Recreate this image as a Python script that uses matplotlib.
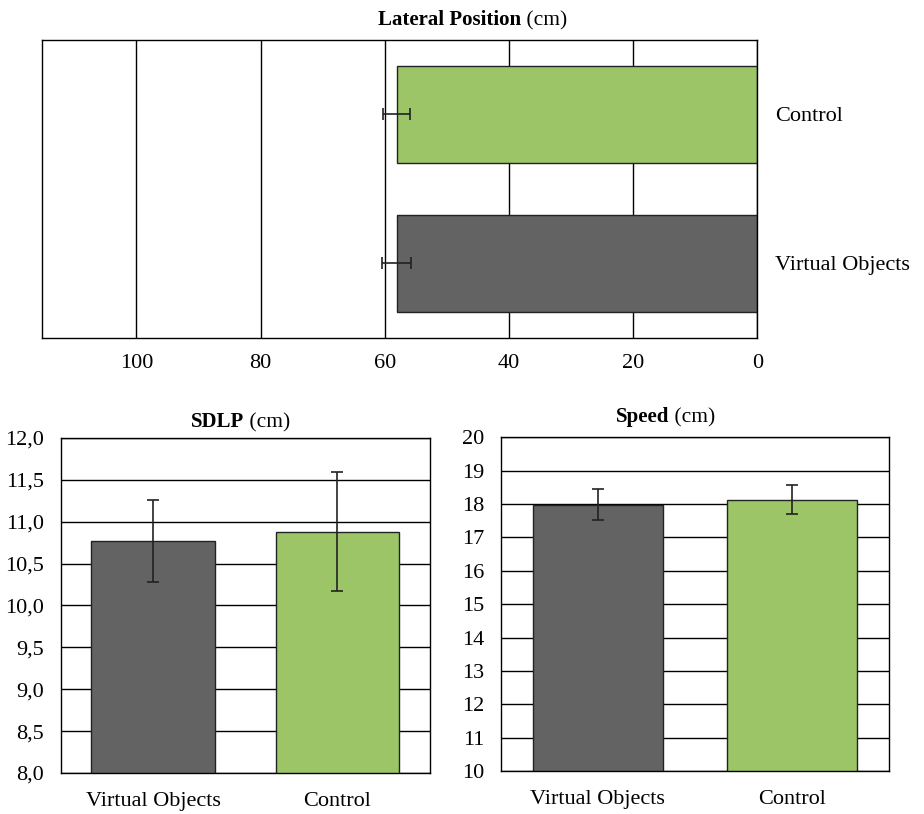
import matplotlib.pyplot as plt
import numpy as np

plt.rcParams['font.family'] = ['Liberation Serif', 'DejaVu Serif']
plt.rcParams['font.size'] = 16

# Lateral position (top, horizontal)
lat_labels = ["Virtual Objects", "Control"]
lat_values = [58.1, 58.1]
lat_err = [2.4, 2.1]

# SDLP
sdlp_labels = ["Virtual Objects", "Control"]
sdlp_values = [10.77, 10.88]
sdlp_err = [0.49, 0.71]

# Speed
speed_labels = ["Virtual Objects", "Control"]
speed_values = [17.98, 18.13]
speed_err = [0.47, 0.44]

gray = "#636363"
green = "#9BC566"
colors = [gray, green]


def two_part_title(fig, x, y, bold, rest):
    # bold part ends at x, plain part starts there
    fig.text(x, y, bold, fontweight='bold', ha='right', va='baseline', fontsize=15)
    fig.text(x, y, rest, ha='left', va='baseline', fontsize=15.5)


def style_axes(ax):
    for s in ax.spines.values():
        s.set_color('black')
        s.set_linewidth(1)
    ax.tick_params(length=0)
    ax.set_axisbelow(True)


fig = plt.figure(figsize=(9.24, 8.14), dpi=100)

# --- top chart
ax1 = fig.add_axes([0.0455, 0.585, 0.774, 0.366])
style_axes(ax1)
ypos = np.arange(len(lat_labels))
ax1.barh(ypos, lat_values, height=0.65, color=colors, edgecolor='#222222', linewidth=1, zorder=2)
ax1.errorbar(lat_values, ypos, xerr=lat_err, fmt='none', ecolor='#222222', elinewidth=1.2,
             capsize=4, capthick=1.2, zorder=3)
ax1.set_xlim(115.2, 0)
ax1.set_ylim(-0.5, 1.5)
ax1.set_xticks([100, 80, 60, 40, 20, 0])
ax1.set_xticklabels(['100', '80', '60', '40', '20', '0'])
ax1.xaxis.grid(True, color='black', linewidth=1)
ax1.yaxis.tick_right()
ax1.set_yticks(ypos)
ax1.set_yticklabels(lat_labels)
ax1.tick_params(axis='y', pad=13)
ax1.tick_params(axis='x', pad=12)

# --- SDLP
ax2 = fig.add_axes([0.066, 0.0504, 0.399, 0.4115])
style_axes(ax2)
xpos = np.arange(len(sdlp_labels))
ax2.bar(xpos, sdlp_values, width=0.67, color=colors, edgecolor='#222222', linewidth=1, zorder=2)
ax2.errorbar(xpos, sdlp_values, yerr=sdlp_err, fmt='none', ecolor='#222222', elinewidth=1.2,
             capsize=4, capthick=1.2, zorder=3)
ax2.set_xlim(-0.5, 1.5)
ax2.set_ylim(8, 12)
yt = np.arange(8, 12.01, 0.5)
ax2.set_yticks(yt)
ax2.set_yticklabels([f"{v:.1f}".replace('.', ',') for v in yt])
ax2.yaxis.grid(True, color='black', linewidth=1)
ax2.set_xticks(xpos)
ax2.set_xticklabels(sdlp_labels)
ax2.tick_params(axis='x', pad=14)
ax2.tick_params(axis='y', pad=12)

# --- Speed
ax3 = fig.add_axes([0.542, 0.0528, 0.420, 0.410])
style_axes(ax3)
ax3.bar(xpos, speed_values, width=0.67, color=colors, edgecolor='#222222', linewidth=1, zorder=2)
ax3.errorbar(xpos, speed_values, yerr=speed_err, fmt='none', ecolor='#222222', elinewidth=1.2,
             capsize=4, capthick=1.2, zorder=3)
ax3.set_xlim(-0.5, 1.5)
ax3.set_ylim(10, 20)
ax3.set_yticks(np.arange(10, 21, 1))
ax3.yaxis.grid(True, color='black', linewidth=1)
ax3.set_xticks(xpos)
ax3.set_xticklabels(speed_labels)
ax3.tick_params(axis='x', pad=14)
ax3.tick_params(axis='y', pad=12)

# titles
two_part_title(fig, 521 / 924, 1 - 25 / 814, "Lateral Position", " (cm)")
two_part_title(fig, 244 / 924, 1 - 427 / 814, "SDLP", " (cm)")
two_part_title(fig, 669 / 924, 1 - 422 / 814, "Speed", " (cm)")

fig.savefig("out.png", dpi=100)
